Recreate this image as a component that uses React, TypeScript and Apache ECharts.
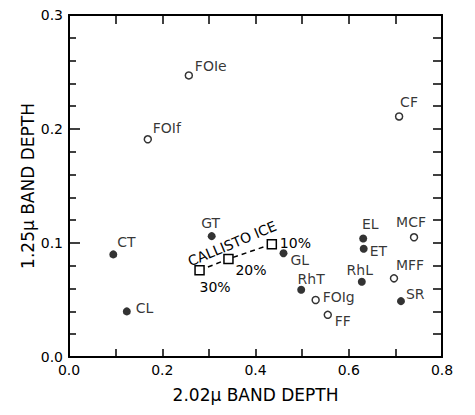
import React, { useEffect, useRef } from "react";
import * as echarts from "echarts";

// Filled-circle samples
const filledNames = ["CT", "CL", "GT", "GL", "RhT", "RhL", "EL", "ET", "SR"];
const filledX = [0.095, 0.124, 0.306, 0.46, 0.498, 0.628, 0.631, 0.632, 0.712];
const filledY = [0.09, 0.04, 0.106, 0.091, 0.059, 0.066, 0.104, 0.095, 0.049];

// Open-circle samples
const openNames = ["FOIe", "FOIf", "CF", "FOIg", "FF", "MCF", "MFF"];
const openX = [0.257, 0.169, 0.708, 0.529, 0.555, 0.74, 0.697];
const openY = [0.247, 0.191, 0.211, 0.05, 0.037, 0.105, 0.069];

// Callisto ice mixing line
const iceLabels = ["30%", "20%", "10%"];
const iceX = [0.28, 0.342, 0.435];
const iceY = [0.076, 0.086, 0.099];
const iceTitle = "CALLISTO ICE";
const iceTitleAt = [0.35, 0.0995];

// Plot frame corners
const frameX = [0, 0.8, 0.8, 0, 0];
const frameY = [0, 0, 0.3, 0.3, 0];

const xTitle = "2.02\u03bc BAND DEPTH";
const yTitle = "1.25\u03bc BAND DEPTH";

// label placement: [dx, dy, align]
const placement: Record<string, [number, number, string]> = {
  CT: [4, -12, "left"],
  CL: [9, -3, "left"],
  GT: [-1, -13, "center"],
  GL: [7, 7, "left"],
  RhT: [10, -11, "center"],
  RhL: [-2, -12, "center"],
  EL: [7, -14, "center"],
  ET: [6, 2, "left"],
  SR: [5, -7, "left"],
  FOIe: [6, -9, "left"],
  FOIf: [5, -11, "left"],
  CF: [1, -14, "left"],
  FOIg: [7, -3, "left"],
  FF: [7, 6, "left"],
  MCF: [-3, -15, "center"],
  MFF: [2, -13, "left"],
  "30%": [0, 17, "left"],
  "20%": [7, 11, "left"],
  "10%": [8, -1, "left"],
};

const FONT = "DejaVu Sans";

function mkData(names: string[], xs: number[], ys: number[]) {
  return names.map((n, i) => {
    const p = placement[n] || [6, 0, "left"];
    return {
      value: [xs[i], ys[i]],
      label: {
        show: true,
        formatter: n,
        position: "inside",
        align: p[2],
        verticalAlign: "middle",
        offset: [p[0], p[1]],
        color: "#000",
        fontSize: 14,
        fontFamily: FONT,
      },
    };
  });
}

function renderIceTitle(params: any, api: any) {
  const t = api.coord(iceTitleAt);
  return {
    type: "text",
    x: t[0],
    y: t[1],
    rotation: 0.4,
    style: {
      text: iceTitle,
      fill: "#000",
      fontSize: 14,
      fontFamily: FONT,
      textAlign: "center",
      textVerticalAlign: "middle",
      align: "center",
      verticalAlign: "middle",
    },
  };
}

function makeOption() {
  const xAxisBase = (pos: string, tickLen: number) => ({
    type: "value",
    position: pos,
    min: 0,
    max: 0.8,
    interval: 0.2,
    splitLine: { show: false },
    axisLine: { show: true, onZero: false, lineStyle: { color: "#000", width: 2 } },
    axisTick: { show: true, inside: true, length: tickLen, lineStyle: { color: "#000", width: 1.5 } },
    minorTick: { show: true, splitNumber: 2, length: tickLen, lineStyle: { color: "#000", width: 1.5 } },
  });
  const yAxisBase = (pos: string, major: number, minor: number) => ({
    type: "value",
    position: pos,
    min: 0,
    max: 0.3,
    interval: 0.1,
    splitLine: { show: false },
    axisLine: { show: true, onZero: false, lineStyle: { color: "#000", width: 2 } },
    axisTick: { show: true, inside: true, length: major, lineStyle: { color: "#000", width: 1.5 } },
    minorTick: { show: true, splitNumber: 5, length: minor, lineStyle: { color: "#000", width: 1.5 } },
  });
  const tickLabel = () => ({
    formatter: (v: number) => v.toFixed(1),
    color: "#000",
    fontSize: 14,
    fontFamily: FONT,
    margin: 6,
  });
  return {
    animation: false,
    grid: { left: 69, top: 15, right: 33, bottom: 58 },
    xAxis: [
      {
        ...xAxisBase("bottom", 8),
        axisLabel: tickLabel(),
        name: xTitle,
        nameLocation: "middle",
        nameGap: 29,
        nameMoveOverlap: false,
        nameTextStyle: { color: "#000", fontSize: 17, fontFamily: FONT },
      },
      { ...xAxisBase("top", 9), axisLabel: { show: false } },
    ],
    yAxis: [
      {
        ...yAxisBase("left", 11, 7),
        axisLabel: tickLabel(),
        name: yTitle,
        nameLocation: "middle",
        nameGap: 33,
        nameMoveOverlap: false,
        nameTextStyle: { color: "#000", fontSize: 17, fontFamily: FONT },
      },
      { ...yAxisBase("right", 9, 9), axisLabel: { show: false } },
    ],
    series: [
      {
        type: "line",
        symbol: "none",
        silent: true,
        clip: false,
        lineStyle: { color: "#000", width: 2 },
        data: frameX.map((x, i) => [x, frameY[i]]),
        z: 1,
      },
      {
        type: "custom",
        coordinateSystem: "cartesian2d",
        clip: false,
        silent: true,
        renderItem: renderIceTitle,
        data: [iceTitleAt],
      },
      {
        type: "scatter",
        symbol: "circle",
        symbolSize: 8,
        itemStyle: { color: "#000" },
        data: mkData(filledNames, filledX, filledY),
      },
      {
        type: "scatter",
        symbol: "circle",
        symbolSize: 7,
        itemStyle: { color: "#fff", borderColor: "#000", borderWidth: 1.5 },
        data: mkData(openNames, openX, openY),
      },
      {
        type: "line",
        symbol: "rect",
        symbolSize: 9,
        lineStyle: { color: "#000", width: 1.5, type: [5, 4] },
        itemStyle: { color: "#fff", borderColor: "#000", borderWidth: 1.5 },
        data: mkData(iceLabels, iceX, iceY),
        z: 3,
      },
    ],
  };
}

export default function App() {
  const ref = useRef<HTMLDivElement>(null);
  useEffect(() => {
    if (!ref.current) return;
    const chart = echarts.init(ref.current, null, { renderer: "svg" });
    chart.setOption(makeOption() as any);
    return () => chart.dispose();
  }, []);
  return (
    <div
      ref={ref}
      style={{ position: "fixed", left: 0, top: 0, width: 475, height: 415, background: "#fff" }}
    />
  );
}
